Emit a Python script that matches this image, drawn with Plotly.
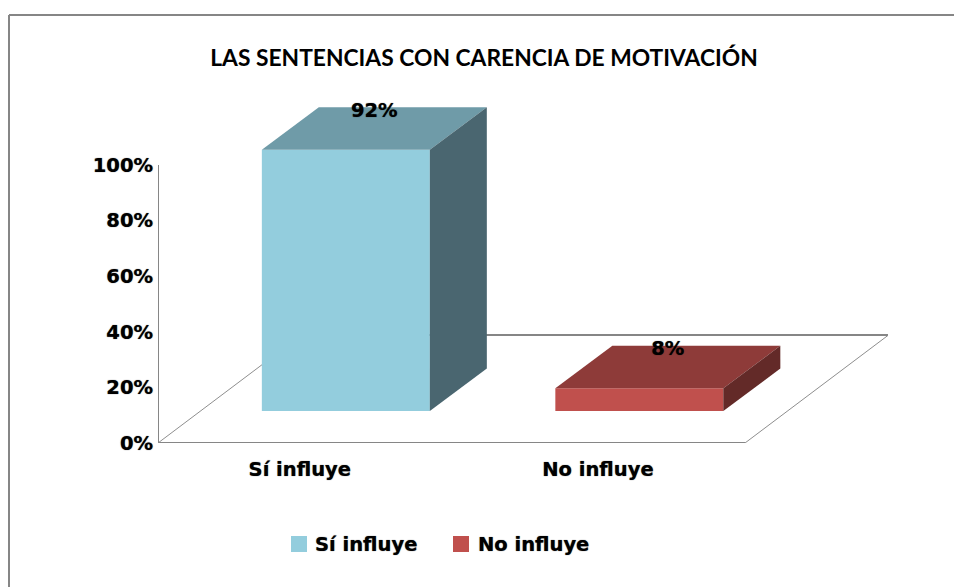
import plotly.graph_objects as go

categories = ['Sí influye', 'No influye']
valores = [92, 8]
etiquetas = ['92%', '8%']
y_ticks = [0, 20, 40, 60, 80, 100]
y_labels = ['0%', '20%', '40%', '60%', '80%', '100%']

color_front = ['#93CDDD', '#C0504D']
color_top = ['#6F9BA8', '#8E3B39']
color_side = ['#4A6670', '#632A28']

W, H = 954, 587
L, R, T, B = 158, 888, 100, 443
PX_X = 293.5   # pixels per category
PX_Y = 2.78    # axis pixels per percent
PX_Y2 = 2.84   # the front plane is drawn slightly larger

X_MIN = -0.5
X_MAX = X_MIN + (R - L) / PX_X
OFFSET = 0.14          # bars sit in front of the middle of the floor
BAR_W = 168 / PX_X
BASE = 32 / PX_Y2      # lift of the front plane above the floor edge
DX = 57 / PX_X         # depth of a bar
DY = 42.5 / PX_Y2
FLOOR_DX = 143.5 / PX_X
FLOOR_DY = 108 / PX_Y

GRIS = '#868686'
# the original text is a blurred bitmap, so the bold gets a soft edge
FONT = dict(family='DejaVu Sans', size=19.5, color='black', weight='bold',
            shadow='0 0 1px rgba(0,0,0,0.7)')


def px(x):
    return (x - L) / (R - L)


def py(y):
    return (B - y) / (B - T)


fig = go.Figure()

# floor and value axis
fig.add_trace(go.Scatter(
    x=[X_MIN, X_MIN, 1.5, None, X_MIN + FLOOR_DX, 1.5 + FLOOR_DX],
    y=[100, 0, 0, None, FLOOR_DY, FLOOR_DY],
    mode='lines', line=dict(color=GRIS, width=2), cliponaxis=False,
    showlegend=False, hoverinfo='skip'))
fig.add_trace(go.Scatter(
    x=[X_MIN, X_MIN + FLOOR_DX, None, 1.5, 1.5 + FLOOR_DX],
    y=[0, FLOOR_DY, None, 0, FLOOR_DY],
    mode='lines', line=dict(color='#8E8E8E', width=1), cliponaxis=False,
    showlegend=False, hoverinfo='skip'))

for i, (cat, val) in enumerate(zip(categories, valores)):
    left = i + OFFSET - BAR_W / 2
    right = i + OFFSET + BAR_W / 2
    top = BASE + val
    fig.add_trace(go.Bar(
        x=[i + OFFSET], y=[val], base=BASE, width=BAR_W, name=cat,
        marker=dict(color=color_front[i], line=dict(width=0)),
        yaxis='y2', showlegend=False))
    fig.add_trace(go.Scatter(
        x=[left, right, right + DX, left + DX, left],
        y=[top, top, top + DY, top + DY, top],
        mode='lines', fill='toself', fillcolor=color_top[i],
        line=dict(width=0), yaxis='y2', showlegend=False, hoverinfo='skip'))
    fig.add_trace(go.Scatter(
        x=[right, right + DX, right + DX, right, right],
        y=[BASE, BASE + DY, top + DY, top, BASE],
        mode='lines', fill='toself', fillcolor=color_side[i],
        line=dict(width=0), yaxis='y2', showlegend=False, hoverinfo='skip'))
    fig.add_trace(go.Scatter(
        x=[i + OFFSET + DX / 2], y=[top + 38 / PX_Y2], text=[etiquetas[i]],
        mode='text', textposition='middle center', textfont=FONT,
        yaxis='y2', showlegend=False, hoverinfo='skip'))

# legend keys sit closer to their text than plotly's own legend allows
frame = [
    dict(type='line', xref='paper', yref='paper',
         x0=px(9), x1=px(W), y0=py(15), y1=py(15),
         line=dict(color=GRIS, width=2)),
    dict(type='line', xref='paper', yref='paper',
         x0=px(9), x1=px(9), y0=py(15), y1=py(H),
         line=dict(color=GRIS, width=2)),
]
key_x = [291, 453]
text_x = [313, 476]
keys = [
    dict(type='rect', xref='paper', yref='paper',
         x0=px(key_x[i]), x1=px(key_x[i] + 16), y0=py(536), y1=py(552),
         fillcolor=color_front[i], line=dict(width=0))
    for i in range(2)
]
legend_text = [
    dict(text=categories[i], xref='paper', yref='paper', x=px(text_x[i]), y=py(544),
         xanchor='left', yanchor='middle', showarrow=False, font=FONT)
    for i in range(2)
]

fig.update_layout(
    width=W, height=H,
    margin=dict(l=L, r=W - R, t=T, b=H - B),
    paper_bgcolor='white', plot_bgcolor='white',
    barmode='overlay',
    showlegend=False,
    title=dict(
        text='<b>LAS SENTENCIAS CON CARENCIA DE MOTIVACIÓN</b>',
        x=484 / W, y=1 - 58 / H, xanchor='center', yanchor='middle',
        font=dict(family='Lato', size=22.8, color='black')),
    xaxis=dict(
        range=[X_MIN, X_MAX], tickvals=[-0.017, 0.999], ticktext=categories,
        showgrid=False, zeroline=False, showline=False, ticks='',
        ticklabelstandoff=12, tickfont=FONT),
    yaxis=dict(
        range=[0, (B - T) / PX_Y], tickvals=y_ticks, ticktext=y_labels,
        showgrid=False, zeroline=False, showline=False, ticks='',
        ticklabelstandoff=4, tickfont=FONT),
    yaxis2=dict(
        range=[0, (B - T) / PX_Y2], overlaying='y', visible=False),
    shapes=frame + keys,
    annotations=legend_text,
)

fig.write_html('out.html', config=dict(displayModeBar=False),
               post_script="document.body.style.margin='0';document.body.style.overflow='hidden';")
